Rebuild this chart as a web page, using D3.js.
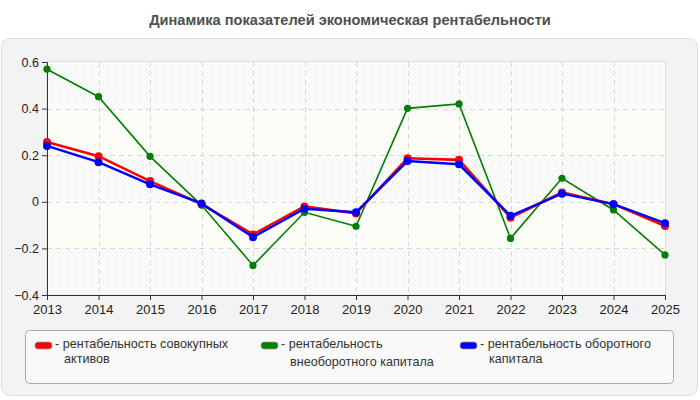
<!DOCTYPE html>
<html><head><meta charset="utf-8">
<script src="https://cdn.jsdelivr.net/npm/d3@7"></script>
<style>body{margin:0;background:#fff;font-family:"Liberation Sans",Arial,sans-serif;}</style>
</head><body>
<svg id="c" width="700" height="400"></svg>
<script>
const years = ["2013","2014","2015","2016","2017","2018","2019","2020","2021","2022","2023","2024","2025"];
const seriesNames = ["рентабельность совокупных активов","рентабельность внеоборотного капитала","рентабельность оборотного капитала"];
const assetsValues = [0.257,0.196,0.089,-0.01,-0.14,-0.02,-0.05,0.187,0.18,-0.068,0.04,-0.01,-0.104];
const nonCurrentValues = [0.569,0.451,0.195,-0.014,-0.273,-0.045,-0.105,0.401,0.42,-0.157,0.101,-0.035,-0.228];
const currentValues = [0.24,0.17,0.075,-0.007,-0.152,-0.03,-0.045,0.175,0.161,-0.06,0.035,-0.01,-0.092];
const yTicks = [0.6,0.4,0.2,0,-0.2,-0.4];
const colors = ["#ff0000","#008000","#0000ff"];

const svg = d3.select("#c");
const defs = svg.append("defs");
const pat = defs.append("pattern").attr("id","hatch").attr("patternUnits","userSpaceOnUse")
  .attr("width",4).attr("height",4);
pat.append("rect").attr("width",4).attr("height",4).attr("fill","#ffffff");
pat.append("path").attr("d","M-1,1 l2,-2 M0,4 l4,-4 M3,5 l2,-2").attr("stroke","#eeeeee").attr("stroke-width",1);

svg.append("text").attr("x",350).attr("y",25).attr("text-anchor","middle")
  .attr("font-size",14.6).attr("font-weight","bold").attr("fill","#505050")
  .text("Динамика показателей экономическая рентабельности");

svg.append("rect").attr("x",1.5).attr("y",38.5).attr("width",696).attr("height",357).attr("rx",8)
  .attr("fill","#f3f3f3").attr("stroke","#e0e0e0");

const x0=47, x1=665, yTop=62, yBot=295;
const x = d3.scalePoint().domain(years).range([x0,x1]);
const y = d3.scaleLinear().domain([-0.4,0.6]).range([yBot,yTop]);

svg.append("rect").attr("x",x0).attr("y",yTop).attr("width",x1-x0).attr("height",yBot-yTop).attr("fill","url(#hatch)");
[[0.4,0.2],[0,-0.2]].forEach(b=>{
  svg.append("rect").attr("x",x0).attr("y",y(b[0])).attr("width",x1-x0).attr("height",y(b[1])-y(b[0]))
    .attr("fill","#fdfdf8");
});
svg.append("rect").attr("x",x0).attr("y",yTop-0.5).attr("width",x1-x0+0.5).attr("height",yBot-yTop+0.5)
  .attr("fill","none").attr("stroke","#dddddd");

const g = svg.append("g");
yTicks.forEach(t=>{ if(t!==0.6 && t!==-0.4) g.append("line").attr("x1",x0).attr("x2",x1).attr("y1",Math.round(y(t))+0.5).attr("y2",Math.round(y(t))+0.5)
  .attr("stroke","#d8d8d8").attr("stroke-dasharray","5,4"); });
years.forEach((yr,i)=>{ if(i>0 && i<years.length-1) g.append("line").attr("x1",Math.round(x(yr))+0.5).attr("x2",Math.round(x(yr))+0.5)
  .attr("y1",yTop).attr("y2",yBot).attr("stroke","#d8d8d8").attr("stroke-dasharray","5,4"); });

const ax = svg.append("g").attr("transform",`translate(${x0},0)`)
  .call(d3.axisLeft(y).tickValues(yTicks).tickSize(5).tickFormat(d=>d===0?"0":d3.format(".1f")(d)));
const bx = svg.append("g").attr("transform",`translate(0,${yBot})`)
  .call(d3.axisBottom(x).tickSize(5));
[ax,bx].forEach(a=>{
  a.select(".domain").attr("stroke","#333");
  a.selectAll(".tick line").attr("stroke","#333");
  a.selectAll("text").attr("fill","#222").attr("font-family","Liberation Sans, Arial, sans-serif");
});
ax.selectAll("text").attr("font-size",12.5);
bx.selectAll("text").attr("font-size",13).attr("dy","0.85em");

const data = [
  {vals:nonCurrentValues,c:colors[1],w:1.6,r:3.6},
  {vals:assetsValues,c:colors[0],w:2.6,r:4},
  {vals:currentValues,c:colors[2],w:2.4,r:4}
];
const line = d3.line().x((d,i)=>x(years[i])).y(d=>y(d));
data.forEach(s=>{
  svg.append("path").datum(s.vals).attr("d",line).attr("fill","none").attr("stroke",s.c).attr("stroke-width",s.w);
  svg.selectAll(null).data(s.vals).enter().append("circle")
    .attr("cx",(d,i)=>x(years[i])).attr("cy",d=>y(d)).attr("r",s.r).attr("fill",s.c);
});

svg.append("rect").attr("x",25.5).attr("y",330.5).attr("width",648).attr("height",53).attr("rx",4)
  .attr("fill","#f9f9f9").attr("stroke","#aaaaaa");
const leg = [
  {x:35,c:colors[0],lines:["- рентабельность совокупных","активов"],dy:[0,14.5]},
  {x:261,c:colors[1],lines:["- рентабельность","внеоборотного капитала"],dy:[0,17.5]},
  {x:460,c:colors[2],lines:["- рентабельность оборотного","капитала"],dy:[0,14.5]}
];
leg.forEach(l=>{
  svg.append("rect").attr("x",l.x).attr("y",342).attr("width",17).attr("height",7).attr("rx",3)
    .attr("fill",l.c).attr("stroke","#999").attr("stroke-width",0.8);
  l.lines.forEach((t,i)=>{
    svg.append("text").attr("x",l.x+(i===0?20:29)).attr("y",348+l.dy[i]).attr("font-size",12.6)
      .attr("fill","#333").text(t);
  });
});
</script>
</body></html>
